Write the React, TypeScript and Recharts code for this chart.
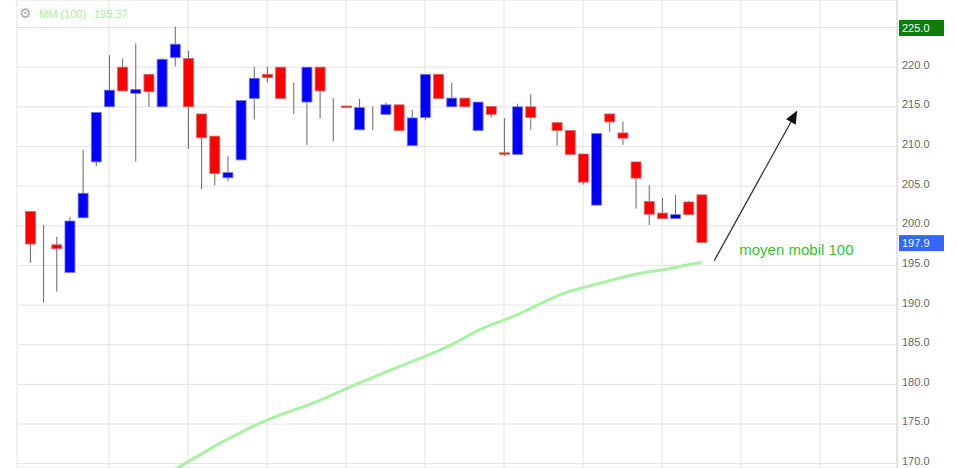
import { ComposedChart, Bar, Line, XAxis, YAxis, CartesianGrid, ReferenceLine, ReferenceDot } from 'recharts'

// daily candles (index), null = no session
const opens = [
  201.8, 197.0, 197.6, 194.1, 201.0, 208.05, 215.0, 220.0, 216.7, 219.1,
  215.0, 221.2, 221.1, 214.1, 211.3, 206.05, 208.3, 216.05, 219.1, 220.0,
  216.0, 215.6, 220.0, 213.0, 215.1, 212.1, 213.5, 214.05, 215.25, 210.1,
  213.65, 219.1, 215.0, 216.1, 212.0, 215.05, 209.2, 209.0, 215.0, null,
  213.0, 212.0, 209.05, 202.6, 214.1, 211.7, 208.05, 203.05, 201.6, 200.9,
  203.0, 203.9,
]
const highs = [
  201.8, 200.1, 198.6, 201.1, 209.6, 214.3, 221.5, 221.1, 223.0, 219.1,
  221.1, 225.1, 222.1, 214.1, 211.3, 208.8, 215.8, 220.05, 220.05, 220.0,
  218.05, 220.0, 220.0, 216.1, 215.1, 216.0, 215.05, 215.5, 215.25, 214.6,
  219.1, 219.1, 218.05, 216.1, 215.6, 215.05, 213.6, 215.4, 216.6, null,
  213.1, 212.0, 209.05, 211.65, 214.1, 213.15, 208.05, 205.1, 203.5, 203.9,
  203.1, 203.9,
]
const lows = [
  195.3, 190.3, 191.7, 194.1, 201.0, 207.5, 215.0, 217.0, 208.1, 215.0,
  215.0, 220.1, 209.7, 204.6, 205.1, 205.6, 208.3, 213.4, 218.1, 216.05,
  214.1, 210.2, 213.5, 210.65, 214.95, 212.1, 212.1, 214.05, 212.0, 210.1,
  213.3, 216.05, 215.0, 215.0, 212.0, 213.65, 208.8, 209.0, 212.1, null,
  210.1, 209.0, 205.2, 202.6, 211.8, 210.2, 202.15, 200.1, 200.9, 200.9,
  201.4, 197.9,
]
const closes = [
  197.7, 197.0, 197.1, 200.6, 204.1, 214.3, 217.1, 217.0, 217.2, 216.9,
  221.0, 222.9, 215.0, 211.1, 206.6, 206.7, 215.8, 218.6, 218.7, 216.05,
  216.0, 220.0, 217.0, 213.0, 214.95, 214.9, 213.5, 215.25, 212.0, 213.6,
  219.1, 216.05, 216.1, 215.0, 215.6, 214.05, 209.05, 215.0, 213.65, null,
  212.0, 209.0, 205.5, 211.65, 213.1, 211.05, 206.0, 201.45, 200.9, 201.4,
  201.4, 197.9,
]
// MM (100)
const ma100 = [
  null, null, null, null, null, null, null, null, null, null,
  null, 169.24, 170.25, 171.2, 172.18, 173.1, 173.93, 174.75, 175.48, 176.16,
  176.75, 177.3, 177.99, 178.69, 179.42, 180.18, 180.85, 181.53, 182.2, 182.86,
  183.53, 184.21, 184.98, 185.87, 186.77, 187.49, 188.1, 188.77, 189.55, 190.35,
  191.13, 191.75, 192.19, 192.63, 193.08, 193.51, 193.88, 194.19, 194.42, 194.73,
  195.1, 195.37,
]
const days = opens.map((_, i) => i)
const yTicks = [170, 175, 180, 185, 190, 195, 200, 205, 210, 215, 220, 225]
const xGrid = [6, 12, 18, 24, 30, 36, 42, 48, 54, 60]
const lastMa = 195.37
const lastClose = 197.9

const data = days.map(i => ({
  i,
  range: opens[i] == null ? null : [lows[i], highs[i]],
  open: opens[i],
  high: highs[i],
  low: lows[i],
  close: closes[i],
  ma: ma100[i],
}))

const font = '"Liberation Sans", Arial, sans-serif'

const Candle = (props: any) => {
  const { x, y, width, height, payload } = props
  if (payload.open == null) return null
  const { open, close, high, low } = payload
  const top = Math.min(y, y + height)
  const h = Math.abs(height)
  const k = high > low ? h / (high - low) : 0
  const py = (v: number) => top + (high - v) * k
  const cx = x + width / 2
  const bTop = py(Math.max(open, close))
  const bBot = py(Math.min(open, close))
  return (
    <g>
      <line x1={cx} x2={cx} y1={top} y2={top + h} stroke="#666" strokeWidth={1} />
      {open !== close && (
        <rect
          x={x}
          y={bTop}
          width={width}
          height={Math.max(bBot - bTop, 1.5)}
          fill={close > open ? '#0000ff' : '#ff0000'}
          stroke={close > open ? '#7d7de0' : '#d46a6a'}
          strokeWidth={0.8}
        />
      )}
    </g>
  )
}

const PriceTick = ({ x, y, payload }: any) => {
  const v = payload.value
  if (v === 225) {
    return (
      <g>
        <rect x={x + 2} y={y - 7.5} width={45} height={16} fill="#0a7d0a" />
        <text x={x + 5} y={y + 4.5} fill="#fff" fontSize={11} fontFamily={font}>{v.toFixed(1)}</text>
      </g>
    )
  }
  return (
    <text x={x + 5} y={y + 1.5} fill="#666" fontSize={11} fontFamily={font}>{v.toFixed(1)}</text>
  )
}

export default function App() {
  return (
    <div style={{ position: 'absolute', left: 0, top: 0, width: 957, height: 468, background: '#fff', overflow: 'hidden' }}>
      <ComposedChart width={957} height={468} data={data} margin={{ top: 0, right: 0, bottom: 0, left: 17 }}>
        <CartesianGrid stroke="#e3e3e3" horizontal vertical />
        <XAxis dataKey="i" type="number" domain={[-0.99, 65.85]} ticks={[-0.99, ...xGrid]} allowDataOverflow hide />
        <YAxis
          orientation="right"
          width={60}
          domain={[169.45, 228.47]}
          ticks={yTicks}
          allowDataOverflow
          interval={0}
          tickLine={false}
          tickSize={0}
          tickMargin={0}
          axisLine={{ stroke: '#e3e3e3', strokeWidth: 2 }}
          tick={<PriceTick />}
        />
        <Line dataKey="ma" stroke="#a9f2a1" strokeWidth={3} dot={false} isAnimationActive={false} />
        <Bar dataKey="range" barSize={10} shape={<Candle />} isAnimationActive={false} />
        <ReferenceLine
          segment={[{ x: 51.97, y: 195.61 }, { x: 58.27, y: 214.52 }]}
          ifOverflow="visible"
          shape={(p: any) => {
            const { x1, y1, x2, y2 } = p
            const a = Math.atan2(y2 - y1, x2 - x1)
            const L = 13
            const W = 5.5
            const bx = x2 - L * Math.cos(a)
            const by = y2 - L * Math.sin(a)
            const pts = `${x2},${y2} ${bx + W * Math.sin(a)},${by - W * Math.cos(a)} ${bx - W * Math.sin(a)},${by + W * Math.cos(a)}`
            return (
              <g>
                <line x1={x1} y1={y1} x2={bx} y2={by} stroke="#333" strokeWidth={1.3} />
                <polygon points={pts} fill="#111" />
              </g>
            )
          }}
        />
        <ReferenceDot
          x={53.87}
          y={196.27}
          ifOverflow="visible"
          shape={(p: any) => (
            <text x={p.cx} y={p.cy} fill="#33c233" fontSize={15} fontFamily={font}>moyen mobil 100</text>
          )}
        />
        <ReferenceDot
          x={65.85}
          y={lastClose}
          ifOverflow="visible"
          shape={(p: any) => (
            <g>
              <rect x={p.cx + 2} y={p.cy - 7.3} width={45} height={16} fill="#3366ff" />
              <text x={p.cx + 5} y={p.cy + 4.5} fill="#fff" fontSize={11} fontFamily={font}>{lastClose.toFixed(1)}</text>
            </g>
          )}
        />
      </ComposedChart>
      <span style={{ position: 'absolute', left: 19, top: 5, fontSize: 14, color: '#aaa', fontFamily: '"DejaVu Sans", sans-serif', lineHeight: '16px' }}>⚙</span>
      <span style={{ position: 'absolute', left: 39, top: 7, fontSize: 11, color: '#a6eea0', fontFamily: font, lineHeight: '14px' }}>MM (100)</span>
      <span style={{ position: 'absolute', left: 94, top: 7, fontSize: 11, color: '#a6eea0', fontFamily: font, lineHeight: '14px' }}>{lastMa.toFixed(2)}</span>
    </div>
  )
}
